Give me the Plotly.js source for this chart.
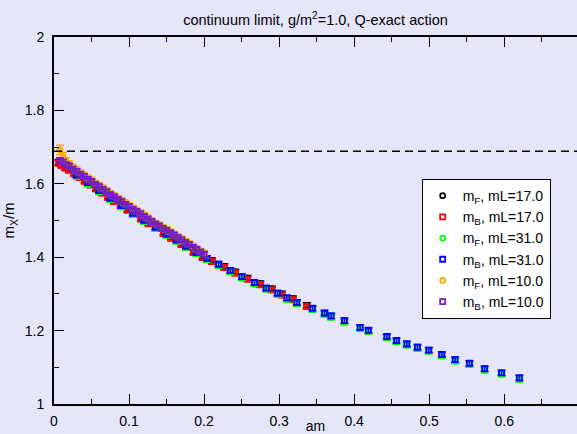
<!DOCTYPE html>
<html>
<head>
<meta charset="utf-8">
<script src="https://cdn.plot.ly/plotly-3.0.1.min.js"></script>
<style>html,body{margin:0;padding:0;overflow:hidden;background:#e6e6fa;}</style>
</head>
<body>
<div id="chart" style="width:577px;height:434px;"></div>
<script>
// ---- data ----
const am10 = [0.008,0.012,0.016,0.020,0.025,0.030,0.035,0.040,0.045,0.050,0.055,0.060,0.065,0.070,0.075,0.080,0.085,0.090,0.095,0.100,0.105,0.110,0.115,0.120,0.125,0.130,0.135,0.140,0.145,0.150,0.155,0.160,0.165,0.170,0.175,0.180,0.185,0.190,0.195,0.200];
const mB10 = [1.664,1.659,1.652,1.648,1.640,1.634,1.626,1.620,1.612,1.606,1.598,1.592,1.585,1.578,1.570,1.564,1.557,1.551,1.544,1.538,1.530,1.525,1.518,1.511,1.504,1.497,1.490,1.485,1.478,1.473,1.466,1.460,1.453,1.447,1.440,1.434,1.427,1.421,1.414,1.408];
const mF10 = [1.692,1.674,1.662,1.655,1.646,1.639,1.631,1.625,1.617,1.611,1.603,1.597,1.590,1.583,1.575,1.569,1.562,1.556,1.549,1.542,1.535,1.529,1.522,1.515,1.508,1.501,1.494,1.489,1.482,1.477,1.470,1.464,1.457,1.451,1.444,1.438,1.431,1.425,1.418,1.412];
const eF10 = [0.013,0.011,0.009,0.008,0.007,0.007,0.006,0.006,0.006,0.006,0.006,0.006,0.006,0.006,0.006,0.006,0.006,0.006,0.006,0.006,0.006,0.006,0.006,0.006,0.006,0.006,0.006,0.006,0.006,0.006,0.006,0.006,0.006,0.006,0.006,0.006,0.006,0.006,0.006,0.006];

const am17 = [0.006,0.010,0.015,0.020,0.027,0.034,0.041,0.048,0.056,0.064,0.072,0.080,0.089,0.098,0.107,0.116,0.126,0.136,0.146,0.156,0.170,0.186,0.198,0.2105,0.2269,0.2415,0.2579,0.2748,0.2904,0.3037,0.3184,0.3370];
const mB17 = [1.656,1.650,1.643,1.637,1.627,1.617,1.607,1.597,1.586,1.575,1.563,1.552,1.540,1.528,1.516,1.504,1.491,1.478,1.465,1.452,1.434,1.413,1.399,1.388,1.372,1.357,1.340,1.325,1.311,1.297,1.284,1.266];
const mF17 = [1.659,1.653,1.646,1.640,1.630,1.620,1.610,1.600,1.589,1.578,1.566,1.555,1.543,1.531,1.519,1.507,1.494,1.481,1.468,1.455,1.437,1.416,1.402,1.391,1.375,1.360,1.343,1.328,1.314,1.300,1.287,1.269];

const am31 = [0.030,0.045,0.060,0.075,0.090,0.105,0.120,0.135,0.150,0.163,0.176,0.190,0.2038,0.2193,0.2349,0.2504,0.2672,0.2828,0.2979,0.3104,0.3237,0.3445,0.3605,0.3694,0.3871,0.4080,0.4191,0.4436,0.4564,0.4702,0.4844,0.4995,0.5169,0.5346,0.5536,0.5739,0.5965,0.6202];
const mB31 = [1.624,1.603,1.582,1.561,1.541,1.520,1.501,1.482,1.463,1.447,1.430,1.413,1.397,1.381,1.364,1.347,1.331,1.316,1.302,1.289,1.277,1.261,1.248,1.240,1.227,1.209,1.201,1.184,1.173,1.164,1.155,1.147,1.135,1.121,1.111,1.096,1.085,1.071];
const mF31 = [1.620,1.599,1.578,1.557,1.537,1.516,1.497,1.478,1.459,1.443,1.426,1.409,1.393,1.377,1.360,1.343,1.327,1.312,1.298,1.285,1.273,1.257,1.244,1.236,1.223,1.205,1.197,1.180,1.169,1.160,1.151,1.143,1.131,1.117,1.107,1.092,1.081,1.067];

const continuumValue = 1.689;
const legendNames = ["m<sub>F</sub>, mL=17.0","m<sub>B</sub>, mL=17.0","m<sub>F</sub>, mL=31.0","m<sub>B</sub>, mL=31.0","m<sub>F</sub>, mL=10.0","m<sub>B</sub>, mL=10.0"];

// ---- styling ----
const FONT = "Liberation Sans, Arial, Helvetica, sans-serif";
function series(x, y, name, color, symbol, err) {
  return {
    type: "scatter", mode: "markers", x: x, y: y, name: name,
    marker: {symbol: symbol, size: 5, color: color, line: {color: color, width: 1.8}},
    error_y: Array.isArray(err)
      ? {type: "data", array: err, visible: true, color: color, thickness: 1.5, width: 4}
      : {type: "constant", value: err, visible: true, color: color, thickness: 1.5, width: 4},
    cliponaxis: true
  };
}
const data = [
  series(am17, mF17, legendNames[0], "#000000", "circle-open", 0.007),
  series(am17, mB17, legendNames[1], "#ff0000", "square-open", 0.007),
  series(am31, mF31, legendNames[2], "#00ff00", "circle-open", 0.007),
  series(am31, mB31, legendNames[3], "#0000ff", "square-open", 0.007),
  series(am10, mF10, legendNames[4], "#ffa500", "circle-open", eF10),
  series(am10, mB10, legendNames[5], "rgb(114,33,188)", "square-open", 0.007)
];

const layout = {
  width: 577, height: 434,
  margin: {l: 54, r: 0, t: 37, b: 30},
  paper_bgcolor: "#e6e6fa", plot_bgcolor: "#e6e6fa",
  font: {family: FONT, color: "#000", size: 14},
  title: {text: "continuum limit, g/m<sup>2</sup>=1.0, Q-exact action", font: {size: 14.5, family: FONT},
          x: 0.5, xref: "paper", y: 0.955, yref: "container", yanchor: "middle"},
  showlegend: true,
  legend: {x: 0.703, y: 0.613, xanchor: "left", yanchor: "top", bgcolor: "#ffffff",
           bordercolor: "#000000", borderwidth: 1, font: {size: 14, family: FONT}},
  xaxis: {
    range: [0, 0.697], showgrid: false, zeroline: false,
    showline: true, linecolor: "#000", linewidth: 2, mirror: "ticks",
    ticks: "inside", ticklen: 10, tickwidth: 1, tickcolor: "#000", dtick: 0.1, tick0: 0,
    minor: {dtick: 0.05, ticks: "inside", ticklen: 5, tickcolor: "#000", showgrid: false},
    tickfont: {size: 14}, ticklabelstandoff: 3,
    title: {text: "am", font: {size: 14}, standoff: 1}
  },
  yaxis: {
    range: [1, 2], showgrid: false, zeroline: false,
    showline: true, linecolor: "#000", linewidth: 2, mirror: false,
    ticks: "inside", ticklen: 10, tickwidth: 1, tickcolor: "#000", dtick: 0.2, tick0: 1,
    minor: {dtick: 0.1, ticks: "inside", ticklen: 5, tickcolor: "#000", showgrid: false},
    tickfont: {size: 14}, ticklabelstandoff: 5,
    title: {text: "m<sub>X</sub>/m", font: {size: 15}, standoff: 6}
  },
  shapes: [{type: "line", xref: "paper", x0: 0, x1: 1, yref: "y", y0: continuumValue, y1: continuumValue,
            line: {color: "#000", width: 1.5, dash: "8px,5px"}}]
};
Plotly.newPlot("chart", data, layout, {displayModeBar: false, staticPlot: true});
</script>
</body>
</html>
